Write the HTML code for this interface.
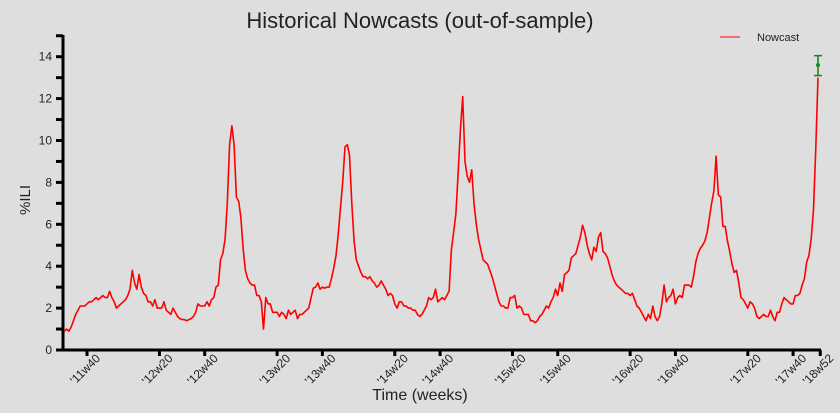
<!DOCTYPE html>
<html><head><meta charset="utf-8"><style>
html,body{margin:0;padding:0;background:#dedede;}
svg{display:block;font-family:"Liberation Sans",Arial,sans-serif;}
</style></head><body>
<svg id="chart" width="840" height="413" viewBox="0 0 840 413">
<rect x="0" y="0" width="840" height="413" fill="#dedede"/>
<text x="420" y="28" text-anchor="middle" font-size="22" fill="#222">Historical Nowcasts (out-of-sample)</text>
<g>
<line x1="720" y1="37" x2="740" y2="37" stroke="#f07070" stroke-width="2"/>
<text x="757" y="41" font-size="11" fill="#222">Nowcast</text>
</g>
<text transform="translate(30,200) rotate(-90)" text-anchor="middle" font-size="15" fill="#222">%ILI</text>
<text x="420" y="400" text-anchor="middle" font-size="16" fill="#222">Time (weeks)</text>
<g id="axes"></g>
<g id="marks"></g>
</svg>
<script>
const ili = [0.9,1.0,0.9,1.1,1.4,1.7,1.9,2.1,2.1,2.1,2.2,2.3,2.3,2.4,2.5,2.4,2.5,2.6,2.5,2.5,2.8,2.5,2.3,2.0,2.1,2.2,2.3,2.4,2.6,2.9,
3.8,3.2,2.9,3.6,3.0,2.7,2.6,2.3,2.3,2.1,2.4,2.0,2.0,2.0,2.3,1.9,1.8,1.7,2.0,1.8,1.6,1.5,
1.45,1.45,1.4,1.45,1.5,1.6,1.8,2.2,2.1,2.1,2.1,2.3,2.1,2.4,2.5,3.0,3.1,4.3,4.6,5.3,7.0,9.8,10.7,9.8,7.3,7.1,6.3,4.8,3.8,3.4,3.2,3.1,3.1,2.6,2.6,2.3,1.0,
2.5,2.2,2.2,1.8,1.8,1.8,1.6,1.8,1.7,1.5,1.9,1.7,1.8,1.9,1.5,1.7,1.7,1.8,1.9,2.0,2.5,2.95,3.0,3.2,2.9,3.0,2.95,3.0,
3.0,3.4,3.9,4.5,5.5,6.8,8.0,9.7,9.8,9.3,7.0,5.2,4.3,4.0,3.7,3.5,3.5,3.4,3.5,3.3,3.2,3.0,3.1,
3.3,3.1,2.9,2.6,2.7,2.6,2.2,2.0,2.3,2.3,2.1,2.1,2.0,2.0,1.9,1.9,1.7,1.6,1.7,1.9,2.1,2.5,2.4,2.5,2.9,2.3,2.4,2.5,2.4,2.6,2.8,
4.8,5.6,6.5,8.5,10.5,12.1,9.0,8.3,8.0,8.6,7.0,6.0,5.3,4.8,4.3,4.2,4.1,3.8,3.5,3.1,2.7,2.3,2.1,2.1,2.0,2.0,2.5,2.5,2.6,2.0,2.1,2.0,1.7,1.7,1.7,1.4,1.4,1.3,1.4,1.6,1.7,1.9,2.1,
2.0,2.3,2.5,2.9,2.6,3.2,2.8,3.6,3.7,3.8,4.4,4.5,4.6,5.0,5.4,5.95,5.6,5.0,4.6,4.3,4.9,4.7,5.4,5.6,4.7,4.6,4.4,4.0,3.6,3.3,3.1,3.0,2.9,2.8,2.7,2.7,2.6,2.7,2.4,2.1,2.0,1.8,1.6,1.4,1.7,1.5,2.1,1.6,1.4,1.6,2.2,3.1,2.3,2.5,2.6,2.9,2.2,2.5,2.6,2.5,3.1,3.1,3.1,3.0,3.5,
4.2,4.6,4.85,5.0,5.2,5.6,6.3,7.0,7.6,9.25,7.4,7.3,5.9,5.9,5.2,4.7,4.1,3.7,3.8,3.2,2.5,2.4,2.2,2.0,2.3,2.2,2.0,1.6,1.5,1.6,1.7,1.6,1.6,1.9,1.6,1.4,1.8,1.8,2.2,2.5,2.4,2.3,2.2,2.2,2.6,2.6,2.7,3.1,3.4,4.2,4.5,5.3,6.7,9.5,13.0];
const tickLabels = ["'11w40","'12w20","'12w40","'13w20","'13w40","'14w20","'14w40","'15w20","'15w40","'16w20","'16w40","'17w20","'17w40","'18w52"];
const tickWeeks = [10,42,62,94,114,146,166,198,218,250,270,302,322,334];
const yTicks = [0,2,4,6,8,10,12,14];
const nowcastPoint = [13.6];
const nowcastLow = [13.1];
const nowcastHigh = [14.05];

const NS = "http://www.w3.org/2000/svg";
const x0 = 64.4, pxPerWeek = 2.263;
const xs = i => x0 + i * pxPerWeek;
const ys = v => 350 - v * 20.95;
function mk(tag, attrs, parent){ const e = document.createElementNS(NS, tag); for (const k in attrs) e.setAttribute(k, attrs[k]); parent.appendChild(e); return e; }
const axes = document.getElementById('axes');
const marks = document.getElementById('marks');

const yAxis = mk('line', {x1:63, y1:35, x2:63, y2:351.5, stroke:'#000', 'stroke-width':3}, axes);


const xAxis = mk('line', {x1:61.5, y1:350, x2:821, y2:350, stroke:'#000', 'stroke-width':3}, axes);



for (let v = 0; v <= 15; v++) {
  const t = mk('line', {x1:56, y1:ys(v), x2:63, y2:ys(v), stroke:'#000', 'stroke-width':3}, axes);
  
  
}
yTicks.forEach(v => {
  const t = mk('text', {x:52, y:ys(v)+4, 'text-anchor':'end', 'font-size':12, fill:'#222'}, axes);
  t.textContent = v;
  
  
});
tickWeeks.forEach((w, k) => {
  const x = xs(w);
  const t = mk('line', {x1:x, y1:350, x2:x, y2:356, stroke:'#000', 'stroke-width':3}, axes);
  
  
  const l = mk('text', {transform:`translate(${x+14},359) rotate(-45)`, 'text-anchor':'end', 'font-size':12, fill:'#222'}, axes);
  l.textContent = tickLabels[k];
  
  
});

const pts = ili.map((v, i) => xs(i).toFixed(1) + ',' + ys(v).toFixed(1)).join(' ');
const line = mk('polyline', {points:pts, fill:'none', stroke:'#ff0000', 'stroke-width':1.6, 'stroke-linejoin':'round'}, marks);



const ex = xs(ili.length - 1);
const eb = mk('g', {stroke:'#1a8a1a', 'stroke-width':1.6}, marks);


mk('line', {x1:ex, y1:ys(nowcastHigh[0]), x2:ex, y2:ys(nowcastLow[0])}, eb);
mk('line', {x1:ex-4, y1:ys(nowcastHigh[0]), x2:ex+4, y2:ys(nowcastHigh[0])}, eb);
mk('line', {x1:ex-4, y1:ys(nowcastLow[0]), x2:ex+4, y2:ys(nowcastLow[0])}, eb);
const dot = mk('circle', {cx:ex, cy:ys(nowcastPoint[0]), r:2, fill:'#1a8a1a'}, marks);


</script>
</body></html>
